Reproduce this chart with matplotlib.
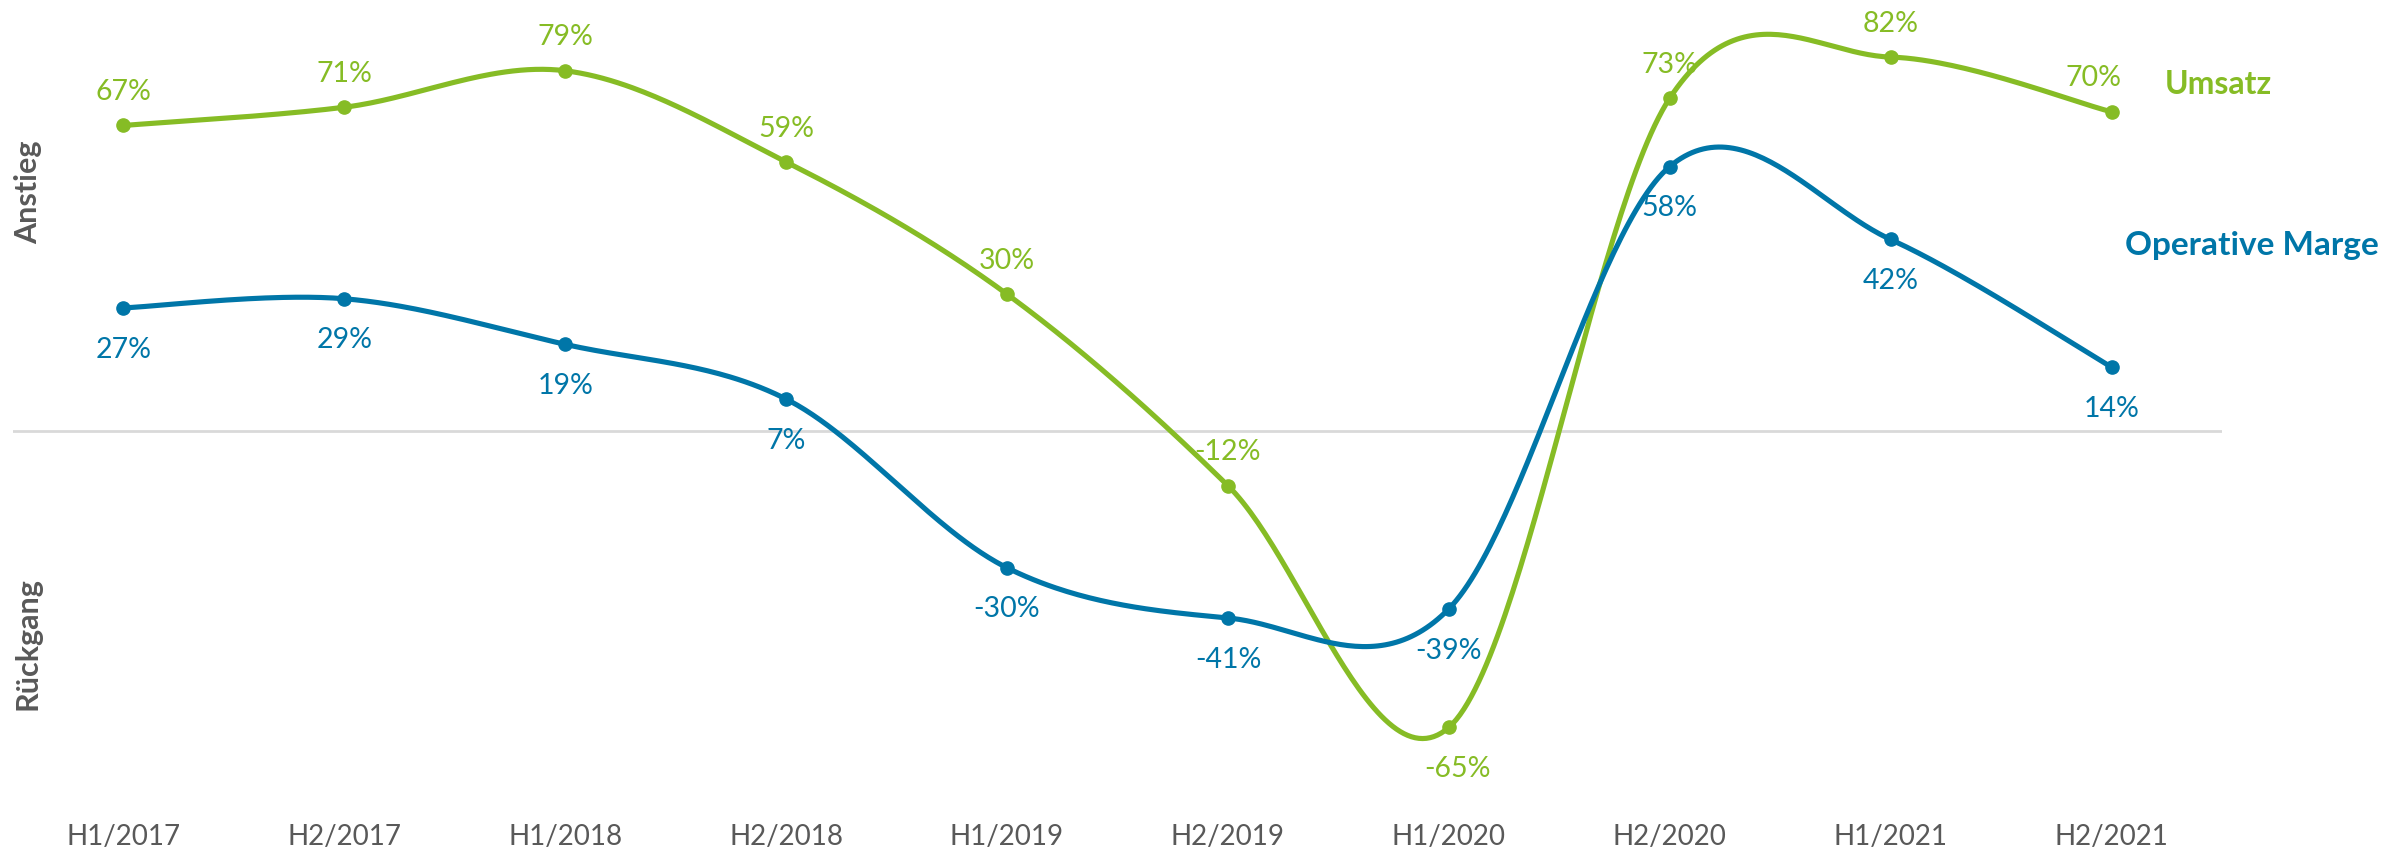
import numpy as np
import matplotlib
matplotlib.use("Agg")
import matplotlib.pyplot as plt

plt.rcParams['font.family'] = ['Lato', 'DejaVu Sans']

categories = ["H1/2017", "H2/2017", "H1/2018", "H2/2018", "H1/2019",
              "H2/2019", "H1/2020", "H2/2020", "H1/2021", "H2/2021"]
umsatz = [67, 71, 79, 59, 30, -12, -65, 73, 82, 70]
marge = [27, 29, 19, 7, -30, -41, -39, 58, 42, 14]
# label placement: +1 above, -1 below
umsatz_pos = [1, 1, 1, 1, 1, 1, -1, 1, 1, 1]
marge_pos = [-1, -1, -1, -1, -1, -1, -1, -1, -1, -1]
# small horizontal nudges of labels (points)
umsatz_dx = [0, 0, 0, 0, 0, 0, 6, 0, 0, -13]
marge_dx = [0, 0, 0, 0, 0, 0, 0, 0, 0, 0]

GREEN = "#86BC25"
BLUE = "#0076A8"
GREY = "#595959"

W, H = 2405, 851
fig = plt.figure(figsize=(W / 100, H / 100), dpi=100)

# axes geometry in pixels
x_left, x_right = 13, 2222
y_top, y_bottom = 0, 800
zero_px = 431
px_per_unit = 4.56
ax = fig.add_axes([x_left / W, (H - y_bottom) / H, (x_right - x_left) / W, (y_bottom - y_top) / H])
ax.set_xlim(-0.5, len(categories) - 0.5)
ax.set_ylim(-(y_bottom - zero_px) / px_per_unit, (zero_px - y_top) / px_per_unit)
ax.axis('off')


def excel_smooth(y, n=60):
    y = np.asarray(y, dtype=float)
    x = np.arange(len(y), dtype=float)
    P = np.column_stack([x, y])
    pts = []
    for i in range(len(P) - 1):
        p0 = P[i - 1] if i > 0 else P[i]
        p1 = P[i]
        p2 = P[i + 1]
        p3 = P[i + 2] if i + 2 < len(P) else P[i + 1]
        c1 = p1 + (p2 - p0) / 6.0
        c2 = p2 - (p3 - p1) / 6.0
        t = np.linspace(0, 1, n)[:, None]
        seg = ((1 - t) ** 3) * p1 + 3 * ((1 - t) ** 2) * t * c1 + 3 * (1 - t) * t ** 2 * c2 + t ** 3 * p2
        pts.append(seg if i == 0 else seg[1:])
    pts = np.vstack(pts)
    return pts[:, 0], pts[:, 1]


ax.axhline(0, color="#D9D9D9", lw=2, zorder=1)

for vals, col, side, dx in [(umsatz, GREEN, umsatz_pos, umsatz_dx), (marge, BLUE, marge_pos, marge_dx)]:
    sx, sy = excel_smooth(vals)
    ax.plot(sx, sy, color=col, lw=3.7, solid_capstyle='round', zorder=3)
    ax.plot(range(len(vals)), vals, 'o', color=col, ms=9.5, zorder=4)
    for i, v in enumerate(vals):
        off = 24 if side[i] > 0 else -30
        ax.annotate(f"{v}%", (i, v), xytext=(dx[i], off), textcoords='offset points',
                    ha='center', va='center', color=col, fontsize=20.5, zorder=5)

# category labels
for i, c in enumerate(categories):
    ax.text(i, -(837 - zero_px) / px_per_unit, c, ha='center', va='center',
            color=GREY, fontsize=20)

# series names
fig.text(2165 / W, 1 - 84 / H, "Umsatz", color=GREEN, fontsize=23, fontweight='bold',
         ha='left', va='center')
fig.text(2125 / W, 1 - 245 / H, "Operative Marge", color=BLUE, fontsize=24, fontweight='bold',
         ha='left', va='center')

# y side labels
fig.text(28 / W, 1 - 192 / H, "Anstieg", color=GREY, fontsize=22, fontweight='bold',
         rotation=90, ha='center', va='center')
fig.text(28 / W, 1 - 644 / H, "Rückgang", color=GREY, fontsize=22, fontweight='bold',
         rotation=90, ha='center', va='center')

fig.savefig("out.png", dpi=100, facecolor='white')
